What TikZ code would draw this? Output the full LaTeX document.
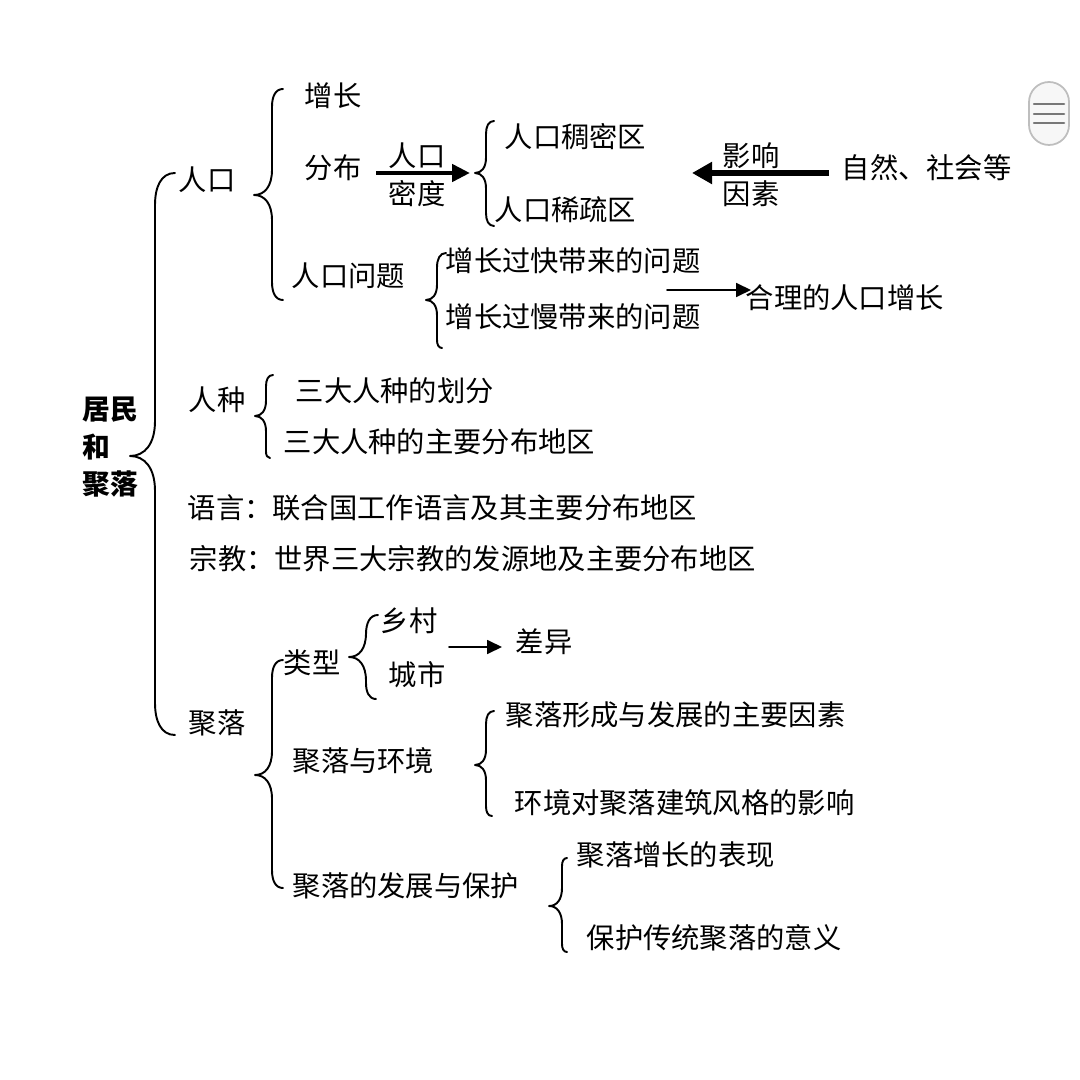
\documentclass[tikz,border=0pt]{standalone}
\usepackage{fontspec}
\setmainfont{Noto Sans CJK SC}
\usetikzlibrary{arrows.meta}
\definecolor{btnfill}{RGB}{247,247,247}
\definecolor{btnedge}{RGB}{190,190,190}
\definecolor{btnbar}{RGB}{120,120,120}
\newcommand{\widecolon}{\char"FF1A\relax}
\tikzset{
  lbl/.style={anchor=west,inner sep=0pt,yshift=-.01cm,font=\fontsize{8.05}{10}\selectfont},
  rootlbl/.style={lbl,font=\fontsize{7.9}{10}\selectfont\bfseries},
  bracket/.style={line width=.55pt},
  fatarrow/.style={-{Triangle[length=.18cm,width=.17cm]},line width=1.4pt,line cap=butt},
  fatterarrow/.style={-{Triangle[length=.2cm,width=.21cm]},line width=1.85pt,line cap=butt},
  thinarrow/.style={-{Triangle[length=.15cm,width=.14cm]},line width=.5pt}
}
\begin{document}
\begin{tikzpicture}[line cap=round,line join=round,x=.01cm,y=-.01cm]
\useasboundingbox (0,0) rectangle (1080,1080);
% labels
\foreach \nm/\x/\y/\txt in {pop/178/179/人口,grow/304/95/增长,dist/304/167/分布,popup/388/155/人口,dens/388/193/密度,
  dense/504/136/人口稠密区,sparse/494/209/人口稀疏区,infl/722/155/影响,fact/722/193/因素,nature/841/167/自然、社会等,
  issue/291/275/人口问题,fast/445/260/增长过快带来的问题,slow/445/316/增长过慢带来的问题,reason/745/297/合理的人口增长,
  race/188/399/人种,racediv/295/390/三大人种的划分,racearea/283/441/三大人种的主要分布地区,
  lang/187/507/语言\widecolon 联合国工作语言及其主要分布地区,relig/189/558/宗教\widecolon 世界三大宗教的发源地及主要分布地区,
  settle/188/722/聚落,kind/283/662/类型,rural/380/620/乡村,urban/388/674/城市,diff/515/641/差异,
  env/292/760/聚落与环境,form/505/714/聚落形成与发展的主要因素,style/514/802/环境对聚落建筑风格的影响,
  protect/292/885/聚落的发展与保护,show/576/854/聚落增长的表现,mean/586/937/保护传统聚落的意义}
\node[lbl] (\nm) at (\x,\y) {\txt};
\node[rootlbl] (rootA) at (82,409) {居民};
\node[rootlbl] (rootB) at (82,446) {和};
\node[rootlbl] (rootC) at (82,483) {聚落};
% braces: tip x / spine x / mid y / top y / bottom y / top end x / bottom end x
\foreach \tx/\sx/\my/\ty/\by/\ex/\fx in {130/155/456/173/735/175/175,254/272/195/89/300/283/283,475/486/173/121/226/494/494,
  426/437/300/253/348/446/442,255/266/416/375/458/273/270,255/272/775/660/888/283/283,349/366/657/615/699/378/376,
  475/486/765/711/816/494/492,549/562/906/858/952/567/567}{
\pgfmathsetmacro{\rr}{(\sx-\tx)*1.4}
\draw[bracket] (\ex,\ty) .. controls ({\sx+(\ex-\sx)*.3},\ty) and (\sx,{\ty+(\ex-\sx)*.7}) .. (\sx,{\ty+(\ex-\sx)*1.6})
  -- (\sx,\my-\rr) .. controls (\sx,\my-.35*\rr) and ({\sx-(\sx-\tx)*.4},\my) .. (\tx,\my)
  .. controls ({\sx-(\sx-\tx)*.4},\my) and (\sx,\my+.35*\rr) .. (\sx,\my+\rr)
  -- (\sx,{\by-(\fx-\sx)*1.6}) .. controls (\sx,{\by-(\fx-\sx)*.7}) and ({\sx+(\fx-\sx)*.3},\by) .. (\fx,\by);
}
% arrows
\coordinate (densA) at (376,173);
\coordinate (densB) at (470,173);
\coordinate (inflA) at (829,173);
\coordinate (inflB) at (692,173);
\coordinate (reasonA) at (667,290);
\coordinate (reasonB) at (751,290);
\coordinate (diffA) at (449,647);
\coordinate (diffB) at (502,647);
\draw[fatarrow] (densA) -- (densB);
\draw[fatterarrow] (inflA) -- (inflB);
\draw[thinarrow] (reasonA) -- (reasonB);
\draw[thinarrow] (diffA) -- (diffB);
% menu button
\draw[fill=btnfill,draw=btnedge,line width=.5pt,rounded corners=.2cm] (1029,82) rectangle (1069,145);
\foreach \y in {104,114,123}
\draw[btnbar,line width=.7pt] (1034,\y) -- (1064,\y);
\end{tikzpicture}
\end{document}
